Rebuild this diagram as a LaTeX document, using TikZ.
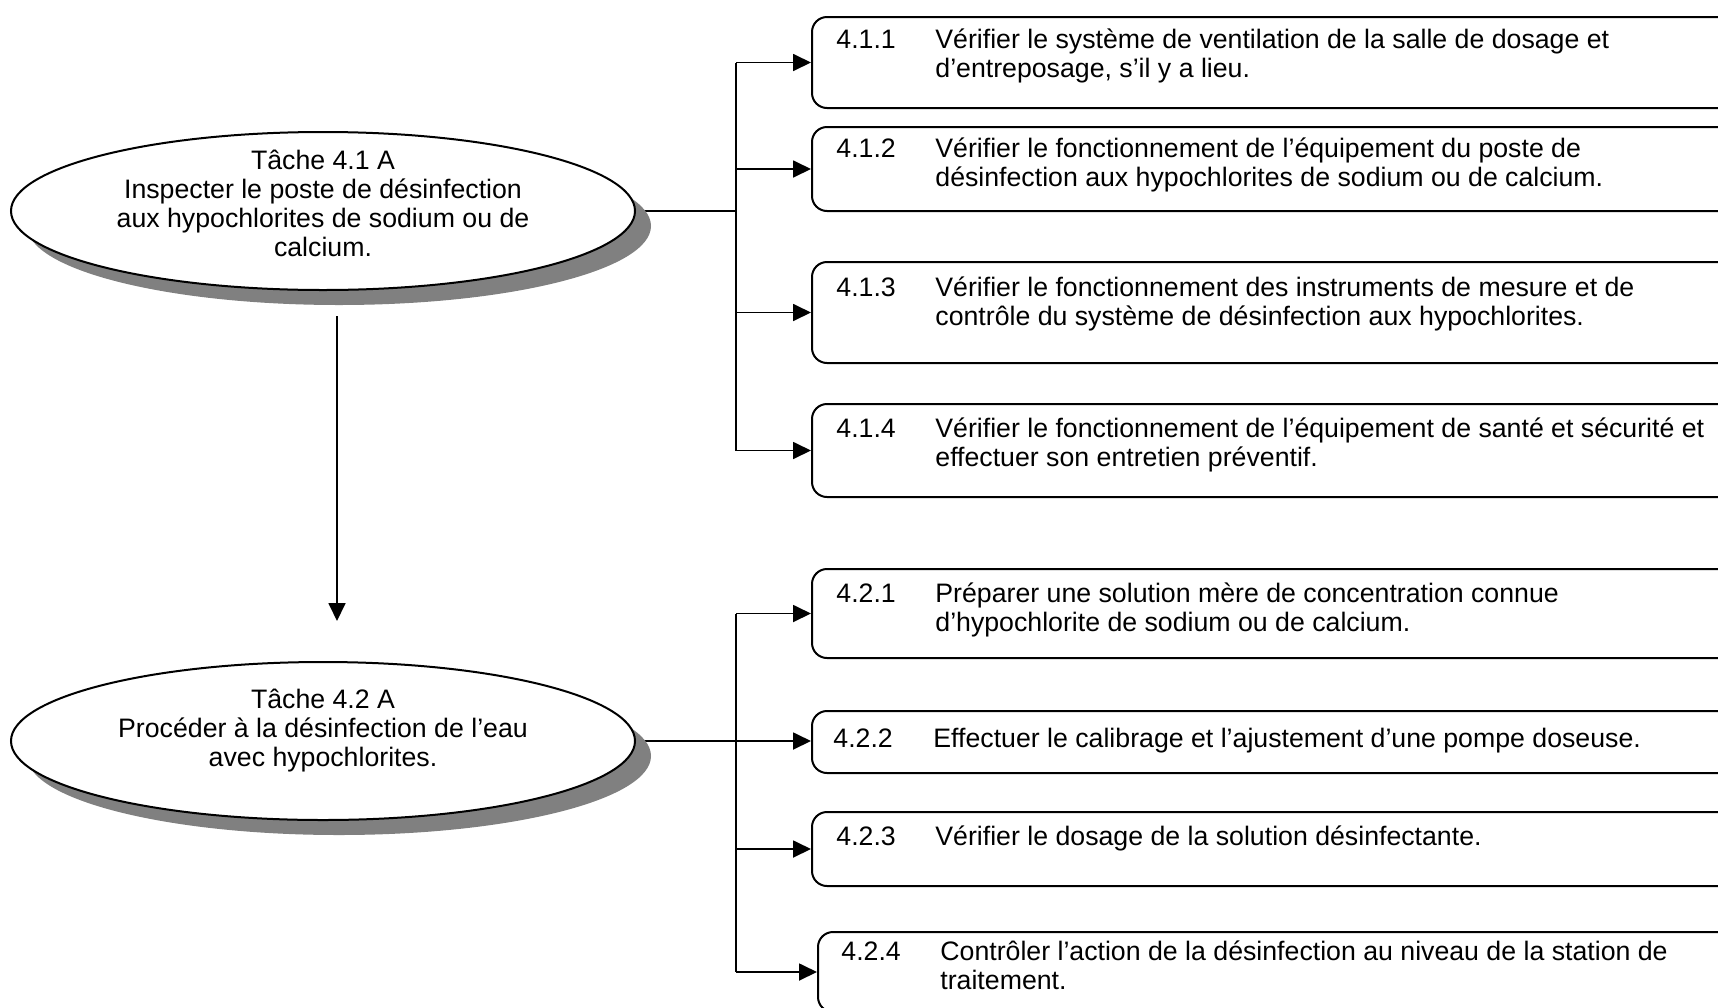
\documentclass[tikz,border=0pt]{standalone}
\usepackage{fontspec}
\setmainfont{Liberation Sans}
\usetikzlibrary{shapes.geometric,shadows,arrows.meta,backgrounds}
\begin{document}
\begin{tikzpicture}[x=0.5pt,y=-0.5pt,
  every node/.style={font=\fontsize{13.35}{14.5}\selectfont},
  ell/.style={ellipse,draw,line width=1pt,fill=white,minimum width=312pt,minimum height=79pt,inner sep=0pt,
    drop shadow={shadow xshift=8pt,shadow yshift=-7.5pt,fill=black!50,opacity=1}},
  box/.style={rectangle,draw,rounded corners=7.5pt,line width=1pt,minimum width=474.5pt,anchor=north west,inner sep=0pt},
  txt/.style={anchor=base west,inner sep=0pt,align=left},
  ctxt/.style={anchor=center,inner sep=0pt,align=center},
  conn/.style={line width=0.9pt},
  arr/.style={conn,-{Triangle[length=9pt,width=8.5pt]}}]
\useasboundingbox (0,0) rectangle (1718,1007);
\clip (0,0) rectangle (1718,1007);

% ellipses
\node[ell] (e1) at (323,211) {};
\node[ctxt] (t1) at (323,203) {Tâche 4.1 A\\Inspecter le poste de désinfection\\aux hypochlorites de sodium ou de\\calcium.};
\node[ell] (e2) at (323,741) {};
\node[ctxt] (t2) at (323,731) {Tâche 4.2 A\\Procéder à la désinfection de l’eau\\avec hypochlorites.};

% boxes
\node[box,minimum height=45.5pt] (b411) at (811,16) {};
\node[box,minimum height=42pt] (b412) at (811,126) {};
\node[box,minimum height=50.5pt] (b413) at (811,261) {};
\node[box,minimum height=46.5pt] (b414) at (811,403) {};
\node[box,minimum height=44.5pt] (b421) at (811,568) {};
\node[box,minimum height=31pt] (b422) at (811,710) {};
\node[box,minimum height=37pt] (b423) at (811,811) {};
\node[box,minimum height=40pt] (b424) at (817,931) {};

% box texts (base anchor = baseline of last line)
\node[txt] (n411) at (836,48) {4.1.1};
\node[txt] (d411) at (935,77) {Vérifier le système de ventilation de la salle de dosage et\\d’entreposage, s’il y a lieu.};
\node[txt] (n412) at (836,157) {4.1.2};
\node[txt] (d412) at (935,186) {Vérifier le fonctionnement de l’équipement du poste de\\désinfection aux hypochlorites de sodium ou de calcium.};
\node[txt] (n413) at (836,296) {4.1.3};
\node[txt] (d413) at (935,325) {Vérifier le fonctionnement des instruments de mesure et de\\contrôle du système de désinfection aux hypochlorites.};
\node[txt] (n414) at (836,437) {4.1.4};
\node[txt] (d414) at (935,466) {Vérifier le fonctionnement de l’équipement de santé et sécurité et\\effectuer son entretien préventif.};
\node[txt] (n421) at (836,602) {4.2.1};
\node[txt] (d421) at (935,631) {Préparer une solution mère de concentration connue\\d’hypochlorite de sodium ou de calcium.};
\node[txt] (n422) at (833,747) {4.2.2};
\node[txt] (d422) at (933,747) {Effectuer le calibrage et l’ajustement d’une pompe doseuse.};
\node[txt] (n423) at (836,845) {4.2.3};
\node[txt] (d423) at (935,845) {Vérifier le dosage de la solution désinfectante.};
\node[txt] (n424) at (841,960) {4.2.4};
\node[txt] (d424) at (940,989) {Contrôler l’action de la désinfection au niveau de la station de\\traitement.};

\coordinate (bus1) at (736,0);
\coordinate (bus2) at (736,0);

\begin{scope}[on background layer]
\draw[conn] (e1.east) -- (e1.east -| bus1);
\draw[conn] (bus1 |- b411.west) -- (bus1 |- b414.west);
\foreach \b in {b411,b412,b413,b414} \draw[arr] (bus1 |- \b.west) -- (\b.west);
\draw[arr] (e2.east) -- (e2.east -| b422.west);
\draw[conn] (bus2 |- b421.west) -- (bus2 |- b424.west);
\foreach \b in {b421,b423,b424} \draw[arr] (bus2 |- \b.west) -- (\b.west);
\draw[arr] ([xshift=7pt,yshift=-12.5pt]e1.south) -- ([xshift=7pt,yshift=20pt]e2.north);
\end{scope}
\end{tikzpicture}
\end{document}
